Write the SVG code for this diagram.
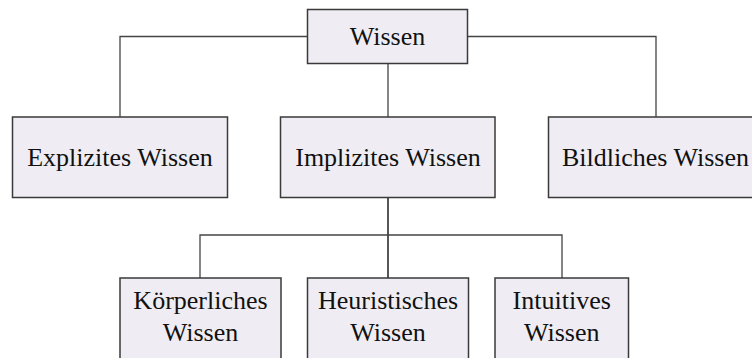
<svg xmlns="http://www.w3.org/2000/svg" width="752" height="358" viewBox="0 0 752 358">
  <style>
    .box { fill: #efedf3; stroke: #3a3a3a; stroke-width: 1.5; }
    .lbl { font-family: "Liberation Serif", "Times New Roman", serif; font-size: 26px; fill: #111; text-anchor: middle; }
    .wire { fill: none; stroke: #444; stroke-width: 1.3; }
  </style>
  <rect width="752" height="358" fill="#ffffff"/>

  <g id="connectors">
    <!-- root to first level -->
    <polyline class="wire" points="307,36.5 120,36.5 120,117"/>
    <polyline class="wire" points="468,36.5 656,36.5 656,117"/>
    <line class="wire" x1="388" y1="63" x2="388" y2="117"/>
    <!-- Implizites to its children -->
    <line class="wire" x1="388" y1="197" x2="388" y2="278" style="stroke-width:1.8"/>
    <polyline class="wire" points="200,278 200,235 562,235 562,278"/>
  </g>

  <g id="wissen">
    <rect class="box" x="307.5" y="9.5" width="160" height="54"/>
    <text class="lbl" x="387.5" y="45">Wissen</text>
  </g>

  <g id="explizites">
    <rect class="box" x="12.5" y="117" width="215" height="80.5"/>
    <text class="lbl" x="120" y="165.5">Explizites Wissen</text>
  </g>

  <g id="implizites">
    <rect class="box" x="280.5" y="117" width="214.5" height="80.5"/>
    <text class="lbl" x="388" y="165.5">Implizites Wissen</text>
  </g>

  <g id="bildliches">
    <rect class="box" x="548.5" y="117" width="214" height="80.5"/>
    <text class="lbl" x="655.5" y="165.5">Bildliches Wissen</text>
  </g>

  <g id="koerperliches">
    <rect class="box" x="120" y="278" width="161" height="90"/>
    <text class="lbl" x="200.5" y="309">Körperliches</text>
    <text class="lbl" x="200.5" y="340.5">Wissen</text>
  </g>

  <g id="heuristisches">
    <rect class="box" x="307.5" y="278" width="161" height="90"/>
    <text class="lbl" x="388" y="309">Heuristisches</text>
    <text class="lbl" x="388" y="340.5">Wissen</text>
  </g>

  <g id="intuitives">
    <rect class="box" x="495" y="278" width="133.5" height="90"/>
    <text class="lbl" x="561.7" y="309">Intuitives</text>
    <text class="lbl" x="561.7" y="340.5">Wissen</text>
  </g>
</svg>
